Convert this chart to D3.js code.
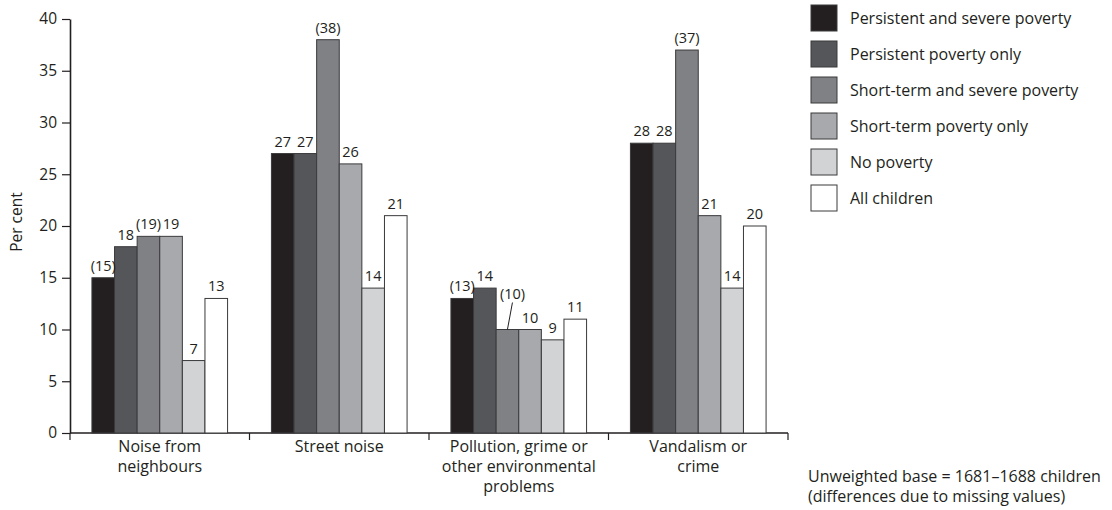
<!DOCTYPE html>
<html>
<head>
<meta charset="utf-8">
<script src="https://cdn.jsdelivr.net/npm/d3@7"></script>
<style>
  html, body { margin: 0; padding: 0; background: #fff; }
  svg { display: block; font-family: "Open Sans", "Noto Sans", sans-serif; }
</style>
</head>
<body>
<svg id="chart" width="1112" height="510"></svg>
<script>
// Neighbourhood problems reported, by poverty group (per cent)
const categories = [
  ["Noise from", "neighbours"],
  ["Street noise"],
  ["Pollution, grime or", "other environmental", "problems"],
  ["Vandalism or", "crime"]
];
const seriesNames = [
  "Persistent and severe poverty",
  "Persistent poverty only",
  "Short-term and severe poverty",
  "Short-term poverty only",
  "No poverty",
  "All children"
];
const seriesColors = ["#231f20", "#55565a", "#808184", "#a7a9ac", "#d1d3d4", "#ffffff"];

// values[category][series]
const noiseNeighbours = [15, 18, 19, 19, 7, 13];
const streetNoise     = [27, 27, 38, 26, 14, 21];
const pollution       = [13, 14, 10, 10, 9, 11];
const vandalism       = [28, 28, 37, 21, 14, 20];
const values = [noiseNeighbours, streetNoise, pollution, vandalism];

// bracketed figures: small unweighted bases
const bracketed = [
  [true, false, true, false, false, false],
  [false, false, true, false, false, false],
  [true, false, true, false, false, false],
  [false, false, true, false, false, false]
];

const yTicks = [0, 5, 10, 15, 20, 25, 30, 35, 40];
const yTitle = "Per cent";
const footnote = ["Unweighted base = 1681\u20131688 children", "(differences due to missing values)"];

const svg = d3.select("#chart");
const ink = "#231f20";

const y = d3.scaleLinear().domain([0, 40]).range([433, 19]);
const catKeys = categories.map(c => c.join(" "));
const x0 = d3.scaleBand().domain(catKeys).range([70, 788]).paddingInner(0).paddingOuter(0);
const x1 = d3.scaleBand().domain(seriesNames).range([0, x0.bandwidth()]).paddingInner(0).paddingOuter(0.97);

// Y axis
const yAxis = d3.axisLeft(y).tickValues(yTicks).tickSize(8).tickSizeOuter(0).tickPadding(5);
const yg = svg.append("g").attr("transform", "translate(70,0)").call(yAxis);
yg.select(".domain").attr("stroke", ink).attr("stroke-width", 1.6);
yg.selectAll(".tick line").attr("stroke", ink).attr("stroke-width", 1.2);
yg.selectAll(".tick text").attr("fill", ink).attr("font-size", 15.5).attr("font-family", "Open Sans");

svg.append("text")
  .attr("transform", "translate(22," + (y(20) - 4) + ") rotate(-90)")
  .attr("text-anchor", "middle")
  .attr("font-size", 15.5)
  .attr("fill", ink)
  .text(yTitle);

// X axis baseline with ticks at category boundaries
svg.append("line")
  .attr("x1", 70).attr("x2", x0.range()[1])
  .attr("y1", y(0)).attr("y2", y(0))
  .attr("stroke", ink).attr("stroke-width", 1.6);
const bounds = catKeys.map(k => x0(k)).concat([x0(catKeys[catKeys.length - 1]) + x0.bandwidth()]);
svg.append("g").selectAll("line").data(bounds).join("line")
  .attr("x1", d => d).attr("x2", d => d)
  .attr("y1", y(0)).attr("y2", y(0) + 7)
  .attr("stroke", ink).attr("stroke-width", 1.2);

// Category labels
const catLabels = svg.append("g").selectAll("text").data(categories).join("text")
  .attr("x", (d, i) => x0(catKeys[i]) + x0.bandwidth() / 2)
  .attr("y", y(0) + 19)
  .attr("text-anchor", "middle")
  .attr("font-size", 16)
  .attr("fill", ink);
catLabels.selectAll("tspan").data(d => d).join("tspan")
  .attr("x", function () { return d3.select(this.parentNode).attr("x"); })
  .attr("dy", (d, i) => i === 0 ? 0 : 20)
  .text(d => d);

// Bars
const groups = svg.append("g").selectAll("g").data(values).join("g")
  .attr("transform", (d, i) => "translate(" + x0(catKeys[i]) + ",0)");

groups.selectAll("rect").data((d, ci) => d.map((v, si) => ({ v, si, ci })))
  .join("rect")
  .attr("x", d => x1(seriesNames[d.si]))
  .attr("y", d => y(d.v))
  .attr("width", x1.bandwidth())
  .attr("height", d => y(0) - y(d.v))
  .attr("fill", d => seriesColors[d.si])
  .attr("stroke", "#3a3a3c")
  .attr("stroke-width", 1);

// Value labels; the crowded (10) in the pollution group gets a raised callout
groups.each(function (row, ci) {
  const g = d3.select(this);
  row.forEach((v, si) => {
    const cx = x1(seriesNames[si]) + x1.bandwidth() / 2;
    const txt = bracketed[ci][si] ? "(" + v + ")" : String(v);
    const crowded = ci === 2 && si === 2;
    let ty = y(v) - 7;
    let tx = cx;
    if (crowded) {
      ty = y(v) - 31;
      tx = cx + 5;
      g.append("line")
        .attr("x1", cx).attr("y1", y(v))
        .attr("x2", cx + 5).attr("y2", ty + 4)
        .attr("stroke", ink).attr("stroke-width", 1);
    }
    g.append("text")
      .attr("x", tx).attr("y", ty)
      .attr("text-anchor", "middle")
      .attr("font-size", 14.5)
      .attr("fill", ink)
      .text(txt);
  });
});

// Legend
const legend = svg.append("g").attr("transform", "translate(811,5)");
const items = legend.selectAll("g").data(seriesNames).join("g")
  .attr("transform", (d, i) => "translate(0," + i * 36 + ")");
items.append("rect")
  .attr("width", 26).attr("height", 26)
  .attr("fill", (d, i) => seriesColors[i])
  .attr("stroke", "#3a3a3c").attr("stroke-width", 1);
items.append("text")
  .attr("x", 39).attr("y", 13).attr("dy", "0.35em")
  .attr("font-size", 16)
  .attr("fill", ink)
  .text(d => d);

// Footnote
svg.append("text")
  .attr("x", 808).attr("y", 482)
  .attr("font-size", 16)
  .attr("fill", ink)
  .selectAll("tspan").data(footnote).join("tspan")
  .attr("x", 808).attr("dy", (d, i) => i === 0 ? 0 : 20)
  .text(d => d);
</script>
</body>
</html>
